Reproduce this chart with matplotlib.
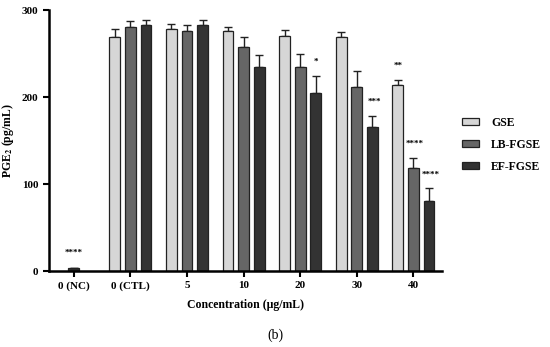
import numpy as np
import matplotlib
matplotlib.use('agg')
from matplotlib import pyplot as plt

plt.rcParams['font.family'] = ['Liberation Serif', 'DejaVu Serif']
plt.rcParams['font.weight'] = 'bold'
plt.rcParams['axes.labelweight'] = 'bold'
plt.rcParams['mathtext.fontset'] = 'stix'

# data
groups = ['0 (NC)', '0 (CTL)', '5', '10', '20', '30', '40']
series = ['GSE', 'LB-FGSE', 'EF-FGSE']
colors = ['#d6d6d6', '#666666', '#333333']

gse = [269, 278, 276, 270, 269, 214]
gse_err = [9, 6, 5, 7, 6, 6]
lb = [281, 276, 257, 235, 212, 118]
lb_err = [7, 7, 12, 14, 18, 12]
ef = [283, 283, 235, 205, 165, 81]
ef_err = [6, 6, 13, 19, 13, 14]

nc_value = 3
nc_err = 1

# significance marks: (group index, series index, text)
stars = [(4, 2, '*'), (5, 2, '***'), (6, 0, '**'), (6, 1, '****'), (6, 2, '****')]
nc_star = '****'

fig = plt.figure(figsize=(5.5, 3.47), dpi=100)
ax = fig.add_axes([0.089, 0.219, 0.715, 0.752])

width = 0.19
offsets = [-0.275, 0.0, 0.275]
x = np.arange(1, len(groups))
vals = [gse, lb, ef]
errs = [gse_err, lb_err, ef_err]

for i in range(3):
	ax.bar(x + offsets[i], vals[i], width, color=colors[i], edgecolor='#222222',
		linewidth=0.9, label=series[i], zorder=2)
	ax.errorbar(x + offsets[i], vals[i], yerr=[np.zeros(len(x)), errs[i]], fmt='none',
		ecolor='#222222', elinewidth=1, capsize=3, capthick=1, zorder=1)

ax.bar([0], [nc_value], width, color=colors[2], edgecolor='#222222', linewidth=0.9, zorder=2)
ax.errorbar([0], [nc_value], yerr=[[0], [nc_err]], fmt='none', ecolor='#222222',
	elinewidth=1, capsize=3, capthick=1)
ax.text(0, nc_value + nc_err + 17, nc_star, ha='center', va='center', fontsize=6.5)

for g, s, t in stars:
	top = vals[s][g - 1] + errs[s][g - 1]
	ax.text(g + offsets[s] + (0.03 if len(t) > 2 else 0), top + 16, t, ha='center', va='center', fontsize=6.5)

ax.set_xlim(-0.44, 6.51)
ax.set_ylim(0, 300)
ax.set_xticks(np.arange(len(groups)))
ax.set_xticklabels(groups)
ax.set_yticks([0, 100, 200, 300])
ax.tick_params(axis='both', labelsize=8, width=1.5, length=4)
for side in ['top', 'right']:
	ax.spines[side].set_visible(False)
for side in ['left', 'bottom']:
	ax.spines[side].set_linewidth(1.8)

ax.set_xlabel('Concentration (μg/mL)', fontsize=8.5, labelpad=6)
ax.set_ylabel(r'PGE$_\mathbf{2}$ (pg/mL)', fontsize=8.5, labelpad=4)

fig.legend(loc='center left', bbox_to_anchor=(0.82, 0.582), frameon=False, fontsize=8.5,
	handlelength=1.5, handleheight=0.55, labelspacing=0.85, handletextpad=1.0)

fig.text(0.5, 0.035, '(b)', ha='center', va='center', fontsize=10, fontweight='normal')

fig.savefig('out.png', dpi=100)
